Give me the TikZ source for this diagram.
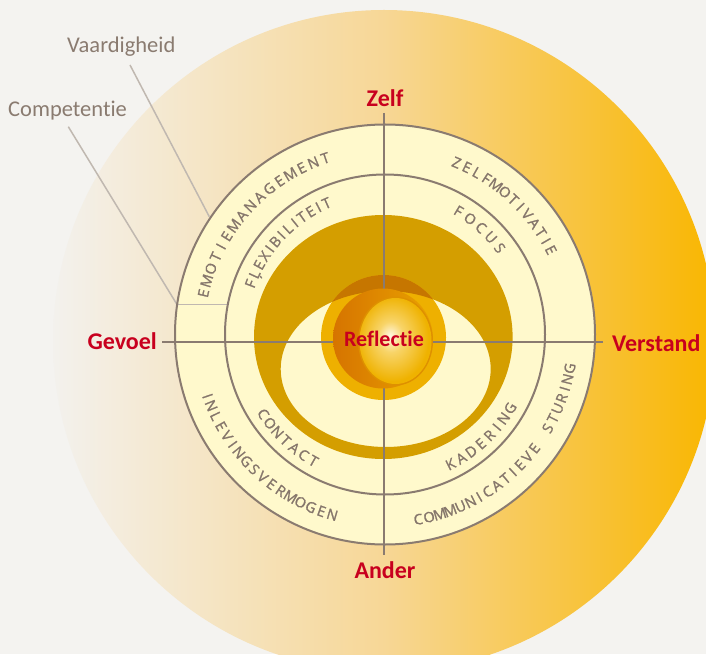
\documentclass[tikz,border=0pt]{standalone}
\usepackage{fontspec}
\setmainfont{Carlito}[Ligatures={NoCommon}]
\newfontfamily\ringfam{Open Sans}[FakeBold=1.3]
\definecolor{bg}{HTML}{F4F3F0}
\definecolor{bigL}{HTML}{F3F1ED}
\definecolor{bigM}{HTML}{F7D796}
\definecolor{bigR}{HTML}{F9B600}
\definecolor{pale}{HTML}{FFF9CC}
\definecolor{ringgray}{HTML}{8A7B70}
\definecolor{ringtxt}{HTML}{85766B}
\definecolor{leadgray}{HTML}{C0B8B0}
\definecolor{gold}{HTML}{D49E00}
\definecolor{capc}{HTML}{C67600}
\definecolor{discc}{HTML}{EEB000}
\definecolor{orgL}{HTML}{D67400}
\definecolor{orgR}{HTML}{E9A200}
\definecolor{rimc}{HTML}{DE9000}
\definecolor{sphW}{HTML}{FFF8E4}
\definecolor{sphM}{HTML}{F8D468}
\definecolor{sphE}{HTML}{EFB200}
\definecolor{redc}{HTML}{C8001E}
\pgfdeclareradialshading{spheresh}{\pgfpoint{-4bp}{3bp}}{color(0bp)=(sphW); color(9bp)=(sphM); color(25bp)=(sphE); color(50bp)=(sphE)}
\newcommand\ringfont{\ringfam\fontsize{14.5}{16}\selectfont}
\newcommand\rsp{\hbox to 2pt{}}
\newcommand\rI{\kern-1.2pt I\kern-1.2pt}
\newdimen\atW
\newdimen\atS
\newcount\atN
% #1 centre, #2 start angle, #3 end angle, #4 baseline radius, #5 direction (-1 cw / +1 ccw), #6 letters
\newcommand\arctext[6]{%
  \global\atW=0pt \global\atN=0
  \foreach \ch in {#6}{\setbox0=\hbox{\ringfont\ch}\global\advance\atW by \wd0 \global\advance\atN by 1 }%
  \pgfmathsetmacro\atL{abs(#3-#2)*pi/180*#4}%
  \pgfmathsetmacro\atG{(\atL-\the\atW)/(\the\atN-1)}%
  \global\atS=0pt
  \foreach \ch in {#6}{%
    \setbox0=\hbox{\ringfont\ch}%
    \edef\atw{\the\wd0}%
    \pgfmathsetmacro\atA{#2+(#5)*(\the\atS+0.5*\atw)/#4*180/pi}%
    \node[ringlet, rotate=\atA+(#5)*90] at ([shift={(\atA:#4)}]#1) {\ch};
    \global\advance\atS by \atw
    \global\advance\atS by \atG pt
  }%
}
\tikzset{
  ringlet/.style={text=ringtxt, font=\ringfont, inner sep=0pt, anchor=base},
  redlabel/.style={text=redc, font=\fontsize{24}{28}\selectfont\bfseries, inner sep=0pt},
  graylabel/.style={text=ringgray, font=\fontsize{22.5}{26}\selectfont, inner sep=0pt},
  leader/.style={draw=leadgray, line width=1.5pt},
  ringline/.style={draw=ringgray, line width=2pt},
  crossline/.style={draw=ringgray, line width=2pt}
}
\begin{document}
\begin{tikzpicture}[x=1pt,y=1pt]
\useasboundingbox (0,0) rectangle (706,654);
\fill[bg] (0,0) rectangle (706,654);
% big gradient disc
\begin{scope}
\clip (0,0) rectangle (706,654);
\shade[left color=bigL, right color=bigR, middle color=bigM] (384,313) circle[radius=331];
\end{scope}
% leader labels
\node[graylabel, anchor=base west] (vaar) at (67,601) {Vaardigheid};
\node[graylabel, anchor=base west] (comp) at (8,537) {Competentie};
\coordinate (vA) at (130,589);
\coordinate (vB) at (209.3,437.3);
\coordinate (cA) at (68.3,527.3);
\coordinate (cB) at (177,349.5);
\coordinate (cC) at (228,349.5);
\draw[leader] (vA) -- (vB);
\draw[leader] (cA) -- (cB);
% rings
\coordinate (C) at (385,319.5);
\fill[pale] (C) circle[radius=210];
\draw[leader] (cB) -- (cC);
\draw[ringline] (C) circle[radius=210];
\draw[ringline] (C) circle[radius=160];
% gold crescent
\fill[gold, even odd rule] (383.3,317) ellipse[x radius=129.3, y radius=122] (385.7,285) ellipse[x radius=105, y radius=78];
% central disc with cap
\fill[discc] (383.5,316.5) circle[radius=62.5];
\begin{scope}
\clip (383.5,316.5) circle[radius=62.5];
\fill[capc, even odd rule] (383.3,317) ellipse[x radius=129.3, y radius=122] (385.7,285) ellipse[x radius=105, y radius=78];
\end{scope}
% cross lines
\node[redlabel, anchor=base] (zelf) at (385,547) {Zelf};
\node[redlabel, anchor=base] (ander) at (385,76) {Ander};
\node[redlabel, anchor=base east] (gevoel) at (157,305) {Gevoel};
\node[redlabel, anchor=base west] (verstand) at (612,303) {Verstand};
\coordinate (zT) at (384,541);
\coordinate (aB) at (384,99);
\coordinate (gL) at (162,312);
\coordinate (vR) at (603,312);
\draw[crossline] (zT) -- (aB);
\draw[crossline] (gL) -- (vR);
% orange disc and sphere
\shade[left color=orgL, right color=orgR] (383,315.5) circle[radius=50];
\fill[rimc] (395.5,313) ellipse[x radius=37.5, y radius=44.5];
\shade[shading=spheresh] (395.5,313) ellipse[x radius=36, y radius=43];
\node[text=redc, font=\fontsize{22}{26}\selectfont\bfseries, inner sep=0pt, anchor=base] (refl) at (384,307.3) {Reflectie};
% ring texts
\arctext{C}{167.2}{108.7}{181}{-1}{E,M,O,T,\rI,E,M,A,N,A,G,E,M,E,N,T}
\arctext{C}{67.4}{27.0}{181}{-1}{Z,E,L,F,M,O,T,\rI,V,A,T,\rI,E}
\arctext{C}{159.3}{114.0}{138.5}{-1}{F,Ļ,E,X,\rI,B,\rI,L,\rI,T,E,\rI,T}
\arctext{C}{59.2}{37.0}{138.5}{-1}{F,O,C,U,S}
\arctext{C}{199.5}{253.7}{193}{1}{\rI,N,L,E,V,\rI,N,G,S,V,E,R,M,O,G,E,N}
\arctext{C}{280.2}{349.6}{193}{1}{C,O,M,M,U,N,\rI,C,A,T,\rI,E,V,E,\rsp,S,T,U,R,\rI,N,G}
\arctext{C}{213.1}{240.5}{150.5}{1}{C,O,N,T,A,C,T}
\arctext{C}{296.8}{329.5}{150.5}{1}{K,A,D,E,R,\rI,N,G}
\end{tikzpicture}
\end{document}
